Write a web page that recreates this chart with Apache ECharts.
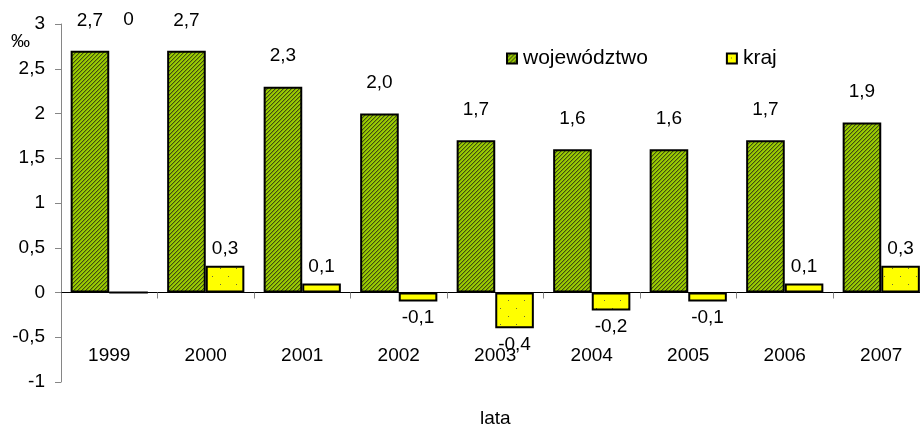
<!DOCTYPE html>
<html>
<head>
<meta charset="utf-8">
<script src="https://cdn.jsdelivr.net/npm/echarts@6/dist/echarts.min.js"></script>
<style>
html,body{margin:0;padding:0;background:#fff;}
#chart{width:920px;height:428px;}
</style>
</head>
<body>
<div id="chart"></div>
<script>
// ---- data ----
const years = ['1999','2000','2001','2002','2003','2004','2005','2006','2007'];
const wojewodztwo = [2.7, 2.7, 2.3, 2.0, 1.7, 1.6, 1.6, 1.7, 1.9];
const kraj = [0, 0.3, 0.1, -0.1, -0.4, -0.2, -0.1, 0.1, 0.3];
const yTickValues = [-1, -0.5, 0, 0.5, 1, 1.5, 2, 2.5, 3];
const seriesNames = ['województwo', 'kraj'];
const yUnit = '‰';
const xTitle = 'lata';

// ---- patterns ----
function hatchPattern() {
  const c = document.createElement('canvas');
  c.width = 4; c.height = 4;
  const g = c.getContext('2d');
  g.fillStyle = '#99cc00'; g.fillRect(0, 0, 4, 4);
  g.fillStyle = '#3f4c14';
  for (let i = 0; i < 4; i++) g.fillRect(i, 3 - i, 1, 1);
  g.fillStyle = '#7d9f08';
  for (let i = 0; i < 4; i++) g.fillRect(i, (4 - i) % 4, 1, 1);
  return c;
}
function dotPattern() {
  const c = document.createElement('canvas');
  c.width = 16; c.height = 16;
  const g = c.getContext('2d');
  g.fillStyle = '#ffff00'; g.fillRect(0, 0, 16, 16);
  g.fillStyle = '#6b6b3a';
  g.fillRect(4, 4, 1, 1);
  g.fillRect(12, 12, 1, 1);
  return c;
}

const FONT = 'Liberation Sans, Arial, sans-serif';
const FS = 19;
const fmt = v => (v === 0 ? '0' : v.toFixed(1).replace('.', ','));
const tickFmt = v => String(v).replace('.', ',');

const chart = echarts.init(document.getElementById('chart'), null, {renderer: 'canvas'});

const GREEN_DIST = 21;

function krajData(zeroOffsets) {
  return kraj.map((v, i) => {
    let label;
    if (v < 0) label = {position: 'bottom', distance: 7};
    else if (v === 0) label = {position: 'top', distance: GREEN_DIST, offset: [0, zeroOffsets ? zeroOffsets[i] : 0]};
    else label = {position: 'top', distance: 7};
    return {value: v, label};
  });
}

const option = {
  animation: false,
  textStyle: {fontFamily: FONT},
  grid: {left: 61, right: -9.5, top: 24, bottom: 46, containLabel: false, outerBoundsMode: 'none'},
  legend: {
    left: 506, top: 48, padding: 0,
    itemWidth: 10, itemHeight: 10, itemGap: 78,
    icon: 'rect',
    textStyle: {fontSize: 21, color: '#000', fontFamily: FONT, padding: [0, 0, 0, 1]},
    data: seriesNames
  },
  xAxis: {
    type: 'category',
    data: years,
    axisLine: {onZero: true, lineStyle: {color: '#000', width: 1}},
    axisTick: {show: true, length: 6, lineStyle: {color: '#868686'}},
    axisLabel: {fontSize: FS, color: '#000', margin: -36, fontFamily: FONT},
    splitLine: {show: false}
  },
  yAxis: {
    type: 'value',
    min: yTickValues[0], max: yTickValues[yTickValues.length - 1], interval: 0.5,
    axisLine: {show: true, lineStyle: {color: '#868686'}},
    axisTick: {show: true, length: 6, lineStyle: {color: '#868686'}},
    axisLabel: {fontSize: FS, color: '#000', margin: 16, formatter: tickFmt, fontFamily: FONT},
    splitLine: {show: false}
  },
  graphic: [
    {type: 'text', left: 11, top: 32, style: {text: yUnit, fontSize: 19, fill: '#000', fontFamily: FONT}},
    {type: 'text', left: 480, top: 409, style: {text: xTitle, fontSize: FS, fill: '#000', fontFamily: FONT}}
  ],
  series: [
    {
      name: seriesNames[0], type: 'bar', data: wojewodztwo,
      barGap: '0%', barCategoryGap: '20%',
      itemStyle: {color: {image: hatchPattern(), repeat: 'repeat'}, borderColor: '#000', borderWidth: 2},
      label: {show: true, position: 'top', distance: GREEN_DIST, fontSize: FS, color: '#000', formatter: p => fmt(p.value), fontFamily: FONT}
    },
    {
      name: seriesNames[1], type: 'bar', data: krajData(null),
      barGap: '0%', barCategoryGap: '20%',
      itemStyle: {color: {image: dotPattern(), repeat: 'repeat'}, borderColor: '#000', borderWidth: 2},
      label: {show: true, fontSize: FS, color: '#000', formatter: p => fmt(p.value), fontFamily: FONT}
    }
  ]
};
chart.setOption(option);

// place zero-value labels at the same height as the neighbouring województwo label
const y0 = chart.convertToPixel({yAxisIndex: 0}, 0);
const zeroOffsets = kraj.map((v, i) => chart.convertToPixel({yAxisIndex: 0}, wojewodztwo[i]) - y0);
chart.setOption({series: [{}, {data: krajData(zeroOffsets)}]});
</script>
</body>
</html>
